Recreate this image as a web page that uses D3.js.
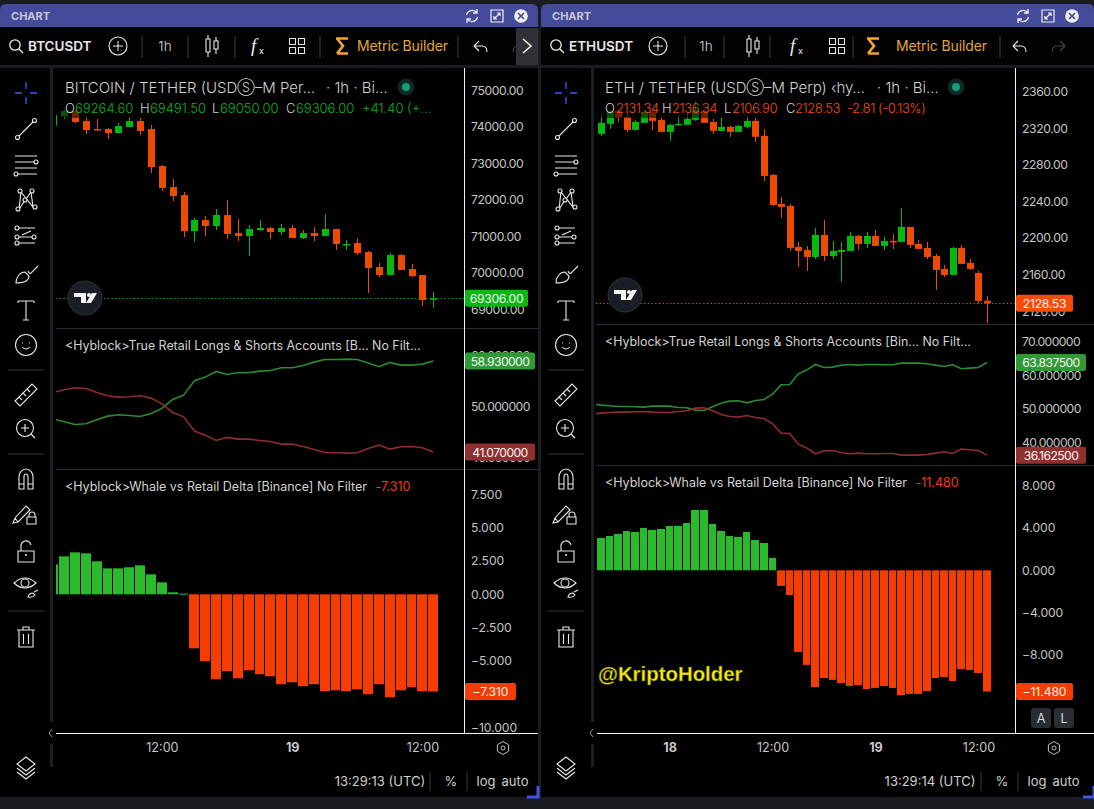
<!DOCTYPE html>
<html>
<head>
<meta charset="utf-8">
<script src="https://cdn.jsdelivr.net/npm/d3@7"></script>
<style>
html, body { margin: 0; padding: 0; background: #000; overflow: hidden; }
svg { display: block; font-family: Inter, "Noto Sans", sans-serif; }
</style>
</head>
<body>
<svg id="fig" width="1094" height="809"></svg>
<script>
// BTC, first entry is the bar cut off by the left edge
const btcOpen = [74035,74300,74437,74163,73944,73944,73834,73998,74163,73944,72930,72355,72136,71150,71451,71287,71588,71095,71013,71177,71232,71122,71232,70958,71095,71013,71205,70776,70821,70575,70164,69945,70492,70109,69945,69264.6];
const btcHigh = [74327,74482,74464,74300,74218,73971,74108,74263,74245,74053,72958,72574,72218,71506,71561,71752,72000,71479,71314,71451,71260,71342,71314,71177,71260,71616,71205,70903,70958,70602,70273,70547,70520,70246,69945,69491.5];
const btcLow = [74035,74218,74108,73807,73916,73670,73834,73998,73779,72739,72246,71972,70986,70849,71013,71177,70931,70876,70465,71150,70931,71040,70958,70931,70876,71013,70630,70630,70492,69452,69890,69945,70082,69890,69096,69050];
const btcClose = [74327,74437,74135,73916,73916,73834,74026,74163,73889,72903,72328,72109,71150,71451,71287,71588,71068,71013,71205,71232,71122,71232,70958,71095,71013,71205,70794,70794,70547,70136,69945,70492,70082,69917,69260,69306];
const btcLongs = [47.51,46.99,46.47,46.60,47.38,48.10,48.36,48.23,48.04,48.63,49.61,51.37,52.22,55.04,55.76,56.87,56.28,56.67,56.61,56.93,57.07,57.59,57.59,58.05,58.70,59.22,59.22,59.29,59.22,58.51,57.79,58.64,58.11,58.11,58.31,58.93];
const btcShorts = [52.75,53.27,53.66,53.53,52.75,52.09,51.83,51.90,52.09,51.64,50.52,48.82,47.97,45.16,44.37,43.33,43.92,43.59,43.59,43.33,43.13,42.61,42.61,42.15,41.56,40.97,40.91,40.84,40.91,41.76,42.41,41.63,42.08,42.15,41.89,41.07];
const btcDelta = [2.25,2.85,3.15,3.08,2.48,1.95,1.95,2.03,2.18,1.50,0.90,0.15,0.05,-4.06,-5.03,-6.38,-5.78,-6.31,-5.71,-6.01,-6.16,-6.76,-6.61,-6.91,-6.76,-7.29,-7.21,-7.29,-7.14,-7.51,-6.76,-7.74,-7.21,-6.99,-7.29,-7.31];
const btcPriceTicks = [75000,74000,73000,72000,71000,70000,69000];
const btcLineTicks = [60,50,40];
const btcDeltaTicks = [7.5,5,2.5,0,-2.5,-5,-7.5,-10];

const ethOpen = [2314.1,2325.1,2339.3,2332.8,2318.5,2326.2,2338.2,2329.5,2316.3,2324,2324,2329.5,2339.3,2327.3,2317.4,2321.8,2316.3,2321.8,2328.4,2311.9,2269.2,2237.4,2235.2,2190.3,2187,2179.3,2203.5,2180.4,2184.8,2185.9,2202.4,2193.6,2202.4,2191.4,2196.9,2195.8,2212.2,2193.6,2189.2,2180.4,2166.2,2159.6,2189.2,2172.8,2161.8,2131.34];
const ethHigh = [2336.1,2340.4,2340.4,2339.3,2329.5,2340.4,2339.3,2331.7,2325.1,2335,2337.2,2350.3,2340.4,2330.6,2331.7,2322.9,2324,2333.9,2331.7,2319.6,2270.3,2245.1,2237.4,2195.8,2191.4,2211.1,2219.9,2196.9,2195.8,2206.7,2203.5,2206.7,2208.9,2201.3,2204.5,2233,2212.2,2198,2195.8,2182.6,2170.6,2190.3,2192.5,2177.1,2164,2136.34];
const ethLow = [2311.9,2319.6,2327.3,2316.3,2317.4,2326.2,2318.5,2316.3,2306.5,2322.9,2324,2328.4,2326.2,2314.1,2317.4,2310.9,2316.3,2320.7,2305.4,2262.6,2235.2,2222.1,2185.9,2168.4,2164,2177.1,2175,2177.1,2151.9,2185.9,2187,2189.2,2191.4,2187,2188.1,2195.8,2189.2,2188.1,2177.1,2143.2,2157.4,2159.6,2171.7,2165.1,2128.9,2106.9];
const ethClose = [2326.2,2338.2,2331.7,2318.5,2327.3,2338.2,2328.4,2316.3,2324,2325.1,2330.6,2340.4,2326.2,2317.4,2321.8,2316.3,2322.9,2328.4,2310.9,2268.1,2236.3,2234.1,2189.2,2185.9,2179.3,2203.5,2180.4,2185.9,2187,2202.4,2193.6,2202.4,2191.4,2196.9,2196.1,2212.2,2192.5,2188.1,2179.3,2165.1,2159.6,2189.2,2171.7,2166.2,2131.1,2128.53];
// ETH lines have one extra point before the first bar
const ethLongs = [51.39,51.09,50.90,50.70,50.70,50.60,50.50,50.80,50.80,50.80,50.40,50.30,49.60,49.50,50.60,51.69,52.29,52.39,51.79,52.49,52.79,54.38,57.16,57.26,60.45,61.64,63.23,62.34,62.44,63.03,63.23,63.03,63.23,63.23,63.13,63.13,63.63,63.63,63.63,63.43,63.03,62.64,63.13,61.94,62.14,62.34,63.84];
const ethShorts = [48.41,48.71,48.91,49.00,49.00,49.10,49.20,49.00,48.91,48.91,49.20,49.40,50.20,50.30,49.50,48.31,47.71,47.51,48.01,47.41,47.11,45.52,42.74,42.64,39.45,38.26,36.57,37.46,37.46,36.97,36.57,36.77,36.57,36.57,36.67,36.67,36.17,36.17,36.17,36.37,36.77,37.16,36.67,37.96,37.76,37.56,36.16];
const ethDelta = [3.06,3.25,3.44,3.72,3.63,4.01,3.82,3.91,4.20,4.20,4.48,5.71,5.71,4.39,3.72,3.25,3.16,3.63,2.87,2.59,1.17,-1.48,-2.34,-7.73,-8.96,-11.05,-10.20,-10.38,-10.67,-10.95,-10.86,-11.24,-11.14,-10.95,-11.14,-11.81,-11.71,-11.71,-11.43,-10.20,-10.10,-10.48,-9.34,-9.44,-9.72,-11.48];
const ethPriceTicks = [2360,2320,2280,2240,2200,2160,2120];
const ethLineTicks = [70,60,50,40];
const ethDeltaTicks = [8,4,0,-4,-8];

const green = "#06b80f", red = "#ee4a02";
const histGreen = "#2bb92e", histRed = "#f43c03";
const longColor = "#2c8a30", shortColor = "#8f2c2c";
const textColor = "#d2d2d2";

const svg = d3.select("#fig");
svg.append("rect").attr("width", 1094).attr("height", 809).attr("fill", "#1b1c21");

const icons = {
    line: "M-7,7L7,-7",
    hlines: "M-11,-9H11M-11,-3H8M-11,3H11M-8,9H11",
    pattern: "M-7,9L-5,-8L7,7L5,-8L-7,9",
    fib: "M-8,-9H9M-7,0H6M-8,6H9M-4,-2L5,-6",
    brush: "M-10,9C-10,3 -6,-2 -1,-2L3,2C3,7 -3,9 -10,9ZM2,-3C3,0 5,0 6,-2L12,-8",
    text: "M-8,-9H8M-8,-9V-7M8,-9V-7M0,-9V10M-3,10H3",
    ruler: "M-11,6L6,-11L11,-6L-6,11ZM-7,2L-4,5M-3,-2L0,1M1,-6L4,-3",
    magnet: "M-7,10V-2A7,8 0 0 1 7,-2V10H2V-2A2,3 0 0 0 -2,-2V10ZM-7,5H-2M2,5H7",
    pencil: "M-10,8L-8,3L3,-9L7,-5L-5,7ZM-8,3L-5,7M6,2V0A3,3 0 0 1 12,0V2M4,2H13V9H4Z",
    lock: "M-8,-1H8V10H-8ZM-5,-1V-5A5,5 0 0 1 5,-7",
    eye: "M-11,-3Q0,-13 11,-3Q0,7 -11,-3ZM3,11Q4,7 8,7L10,9Q8,12 3,11ZM9,6L13,4",
    trash: "M-9,-7H9M-3,-7V-10H3V-7M-7,-7V10H7V-7M-2.5,-3V7M2.5,-3V7",
    layers: "M0,-9L9,-2L0,5L-9,-2ZM-9,2L0,9L9,2M-9,6L0,13L9,6"
};

function addIcon(g, name, x, y, color) {
    g.append("path").attr("d", icons[name]).attr("transform", `translate(${x},${y})`)
        .attr("fill", "none").attr("stroke", color || "#e8e8e8").attr("stroke-width", 1.1);
}

function ring(g, x, y, r) {
    g.append("circle").attr("cx", x).attr("cy", y).attr("r", r)
        .attr("fill", "#000").attr("stroke", "#e8e8e8").attr("stroke-width", 1.1);
}

function sideBar(ox) {
    const g = svg.append("g").attr("transform", `translate(${ox},0)`);
    const x = 26;
    g.append("path").attr("d", "M-11,0H-4M4,0H11M0,-11V-4M0,4V11").attr("transform", "translate(26,93)")
        .attr("fill", "none").attr("stroke", "#2962ff").attr("stroke-width", 1.3);
    addIcon(g, "line", x, 129);
    ring(g, x + 8.5, 120.5, 2); ring(g, x - 8.5, 137.5, 2);
    addIcon(g, "hlines", x, 165);
    ring(g, x + 10, 162, 2); ring(g, x - 10, 174, 2);
    addIcon(g, "pattern", x, 200);
    [[-6,-9],[6,-9],[-8,9],[9,7],[-1,0]].forEach(p => ring(g, x + p[0], 200 + p[1], 2));
    addIcon(g, "fib", x, 237);
    [[-9,-9],[-9,0],[8,0],[-9,6]].forEach(p => ring(g, x + p[0], 237 + p[1], 2));
    addIcon(g, "brush", x, 274);
    addIcon(g, "text", x, 310);
    ring(g, x, 345, 10.5);
    g.append("path").attr("d", "M-4,2Q0,6 4,2M-3.5,-2.5V-1.5M3.5,-2.5V-1.5").attr("transform", `translate(${x},345)`)
        .attr("fill", "none").attr("stroke", "#e8e8e8");
    addIcon(g, "ruler", x, 395);
    ring(g, 25, 428, 8.5);
    g.append("path").attr("d", "M31,434L35,438M25,424V432M21,428H29").attr("fill", "none").attr("stroke", "#e8e8e8").attr("stroke-width", 1.1);
    addIcon(g, "magnet", x, 479);
    addIcon(g, "pencil", x - 3, 515);
    addIcon(g, "lock", x, 552);
    g.append("circle").attr("cx", x).attr("cy", 555).attr("r", 1).attr("fill", "#e8e8e8");
    addIcon(g, "eye", x - 1, 586);
    ring(g, x - 1, 583, 4);
    addIcon(g, "trash", x, 637);
    addIcon(g, "layers", x, 766);
    [370, 454, 611].forEach(y => {
        g.append("line").attr("x1", 8).attr("x2", 44).attr("y1", y).attr("y2", y).attr("stroke", "#36373f");
    });
}

function topBar(ox, w, pos, symbol) {
    const g = svg.append("g").attr("transform", `translate(${ox},0)`);
    g.append("path").attr("d", `M0,27V10Q0,4 6,4H${w - 6}Q${w},4 ${w},10V27Z`).attr("fill", "#454a9a");
    g.append("text").attr("x", 11).attr("y", 20).text("CHART")
        .attr("fill", "#c6c7d6").attr("font-size", 11).attr("font-weight", 700);
    g.append("rect").attr("y", 27).attr("width", w).attr("height", 38).attr("fill", "#020203");

    g.append("path").attr("transform", `translate(${pos.refresh},16)`)
        .attr("d", "M-5.5,-1A5.8,5.8 0 0 1 5,-3M5.5,1A5.8,5.8 0 0 1 -5,3M5,-7V-3H1M-5,7V3H-1")
        .attr("fill", "none").attr("stroke", "#f0f0f0").attr("stroke-width", 1.3);
    g.append("path").attr("transform", `translate(${pos.refresh + 25},16)`)
        .attr("d", "M-6,-6H6V6H-6ZM-3,3L3,-3M0,-3H3V0M-3,0V3H0")
        .attr("fill", "none").attr("stroke", "#f0f0f0").attr("stroke-width", 1.2);
    g.append("circle").attr("cx", pos.refresh + 49).attr("cy", 16).attr("r", 6.8).attr("fill", "#f0f0f0");
    g.append("path").attr("transform", `translate(${pos.refresh + 49},16)`).attr("d", "M-3,-3L3,3M3,-3L-3,3")
        .attr("stroke", "#454a9a").attr("stroke-width", 1.6);

    // search, symbol and the rest of the toolbar
    g.append("circle").attr("cx", 15).attr("cy", 45).attr("r", 5.2).attr("fill", "none").attr("stroke", "#eee").attr("stroke-width", 1.3);
    g.append("path").attr("d", "M19,49L23,53").attr("stroke", "#eee").attr("stroke-width", 1.3);
    g.append("text").attr("x", 28).attr("y", 51).text(symbol).attr("fill", "#e8e8e8")
        .attr("font-size", 13.5).attr("font-weight", 600);
    g.append("circle").attr("cx", pos.plus).attr("cy", 46).attr("r", 9).attr("fill", "none").attr("stroke", "#eee").attr("stroke-width", 1.1);
    g.append("path").attr("d", `M${pos.plus - 5},46H${pos.plus + 5}M${pos.plus},41V51`).attr("stroke", "#eee");
    pos.seps.forEach(x => {
        g.append("line").attr("x1", x).attr("x2", x).attr("y1", 36).attr("y2", 58).attr("stroke", "#3a3b40");
    });
    g.append("text").attr("x", pos.tf).attr("y", 51).attr("text-anchor", "middle").text("1h")
        .attr("fill", "#d8d8d8").attr("font-size", 13.5).attr("font-weight", 300);
    g.append("path").attr("transform", `translate(${pos.candle},46)`)
        .attr("d", "M-6,-7H-2V6H-6ZM-4,-11V-7M-4,6V11M2,-5H6V3H2ZM4,-9V-5M4,3V8")
        .attr("fill", "none").attr("stroke", "#eee").attr("stroke-width", 1.1);
    g.append("text").attr("x", pos.fx - 7).attr("y", 52).text("f").attr("fill", "#eee")
        .attr("font-size", 19).attr("font-style", "italic").attr("font-family", "Liberation Serif");
    g.append("text").attr("x", pos.fx + 1).attr("y", 54).text("x").attr("fill", "#eee").attr("font-size", 9);
    g.append("path").attr("transform", `translate(${pos.grid},46)`)
        .attr("d", "M-7.5,-7.5H-1.5V-1.5H-7.5ZM1.5,-7.5H7.5V-1.5H1.5ZM-7.5,1.5H-1.5V7.5H-7.5ZM1.5,1.5H7.5V7.5H1.5Z")
        .attr("fill", "none").attr("stroke", "#e4e4e4").attr("stroke-width", 1.1);
    g.append("path").attr("transform", `translate(${pos.sigma},46)`)
        .attr("d", "M-6,-7.5H6M-5,-7.5L1,0L-5,7.5M-5,7.5H6")
        .attr("fill", "none").attr("stroke", "#f4a62e").attr("stroke-width", 2.6);
    g.append("text").attr("x", pos.metric).attr("y", 51).text("Metric Builder")
        .attr("fill", "#e1a63c").attr("font-size", 14).attr("letter-spacing", -0.1);
    g.append("path").attr("transform", `translate(${pos.undo},46)`)
        .attr("d", "M-6,0L-1,-5M-6,0L-1,5M-6,0H2Q7,0 7,6").attr("fill", "none").attr("stroke", "#eee").attr("stroke-width", 1.1);
    g.append("path").attr("transform", `translate(${pos.undo + 40},46)`)
        .attr("d", "M6,0L1,-5M6,0L1,5M6,0H-2Q-7,0 -7,6").attr("fill", "none").attr("stroke", "#45464b").attr("stroke-width", 1.1);
}

function lastBox(g, x, y, w, fill, label, spacing) {
    g.append("rect").attr("x", x).attr("y", y - 8.5).attr("width", w).attr("height", 17).attr("rx", 2).attr("fill", fill);
    g.append("text").attr("x", x + w / 2).attr("y", y + 0.5).attr("dy", "0.35em").attr("text-anchor", "middle")
        .attr("fill", "#f4f4f4").attr("font-size", 12.2).attr("letter-spacing", spacing).text(label);
}

function valueAxis(scale, ticks, axisX, fmt, spacing) {
    const g = svg.append("g").attr("transform", `translate(${axisX},0)`)
        .call(d3.axisRight(scale).tickValues(ticks).tickSize(0).tickPadding(7).tickFormat(fmt));
    g.select(".domain").remove();
    g.selectAll("text").attr("fill", "#c4c4c4").attr("font-size", 12.2).attr("font-family", "Inter")
        .attr("letter-spacing", spacing);
    return g;
}

function drawPanel(c) {
    const x = d3.scaleLinear().domain([0, c.lastIndex]).range(c.xRange);
    const at = i => x(i - c.lead);
    const id = c.name;

    const price = d3.scaleLinear().domain(c.priceDomain).range(c.priceRange);
    const lines = d3.scaleLinear().domain([40, 60]).range(c.lineRange);
    const delta = d3.scaleLinear().domain([0, c.deltaRef]).range(c.deltaRange);

    [["a", c.panes[0], c.panes[1]], ["b", c.panes[1], c.panes[2]], ["c", c.panes[2], 733]].forEach(p => {
        svg.append("clipPath").attr("id", id + p[0]).append("rect")
            .attr("x", c.left).attr("y", p[1]).attr("width", c.axisX - c.left).attr("height", p[2] - p[1]);
    });

    // candles
    const pane = svg.append("g").attr("clip-path", `url(#${id}a)`);
    const candleData = c.open.map((o, i) => ({ i, o, h: c.high[i], l: c.low[i], c: c.close[i] }));
    const lastY = Math.round(price(c.close[c.close.length - 1])) + 0.5;
    pane.append("line").attr("x1", c.left).attr("x2", c.axisX).attr("y1", lastY).attr("y2", lastY)
        .attr("stroke", c.lastColor).attr("stroke-dasharray", "1.3 2.4");
    pane.selectAll(".wick").data(candleData).join("line")
        .attr("x1", d => Math.round(at(d.i)) + 0.5).attr("x2", d => Math.round(at(d.i)) + 0.5)
        .attr("y1", d => price(d.h)).attr("y2", d => price(d.l))
        .attr("stroke", d => d.c >= d.o ? green : red);
    pane.selectAll(".body").data(candleData).join("rect")
        .attr("x", d => Math.round(at(d.i)) - 3).attr("width", 7)
        .attr("y", d => price(Math.max(d.o, d.c)))
        .attr("height", d => Math.max(1.5, Math.abs(price(d.o) - price(d.c))))
        .attr("fill", d => d.c >= d.o ? green : red);

    // long / short lines
    const linePath = d3.line().x((d, i) => x(i - c.lineLead)).y(d => lines(d));
    const linePane = svg.append("g").attr("clip-path", `url(#${id}b)`);
    [[c.longs, longColor], [c.shorts, shortColor]].forEach(s => {
        linePane.append("path").attr("d", linePath(s[0])).attr("fill", "none")
            .attr("stroke", s[1]).attr("stroke-width", 1.6);
    });

    // delta bars, 1px gap between neighbours
    const barLeft = i => Math.round(at(i) - c.barWidth / 2);
    svg.append("g").attr("clip-path", `url(#${id}c)`).selectAll("rect").data(c.delta).join("rect")
        .attr("x", (d, i) => barLeft(i)).attr("width", (d, i) => barLeft(i + 1) - barLeft(i) - 1)
        .attr("y", d => Math.min(delta(0), delta(d))).attr("height", d => Math.max(1, Math.abs(delta(d) - delta(0))))
        .attr("fill", d => d >= 0 ? histGreen : histRed);

    // frame
    c.panes.slice(1).forEach(y => {
        svg.append("line").attr("x1", c.left).attr("x2", c.right).attr("y1", y + 0.5).attr("y2", y + 0.5).attr("stroke", "#2b2d33");
    });
    svg.append("line").attr("x1", c.axisX + 0.5).attr("x2", c.axisX + 0.5).attr("y1", 68).attr("y2", 733).attr("stroke", "#f2f2f2");
    svg.append("line").attr("x1", c.left - 3).attr("x2", c.right).attr("y1", 733.5).attr("y2", 733.5).attr("stroke", "#f2f2f2");

    // value axes and last value tags
    valueAxis(price, c.priceTicks, c.axisX, d3.format(".2f"), -0.4);
    valueAxis(lines, c.lineTicks, c.axisX, d3.format(".6f"), -0.6);
    valueAxis(delta, c.deltaTicks, c.axisX, d => d3.format(".3f")(d).replace("-", "−"), -0.1);
    lastBox(svg, c.axisX + 1, price(c.close[c.close.length - 1]), c.priceBox, c.lastColor, d3.format(".2f")(c.close[c.close.length - 1]), -0.3);
    lastBox(svg, c.axisX + 1, lines(c.longs[c.longs.length - 1]), 70, "#2f9a33", c.longLabel, -0.6);
    lastBox(svg, c.axisX + 1, lines(c.shorts[c.shorts.length - 1]), 70, "#8f2f2f", c.shortLabel, -0.6);
    lastBox(svg, c.axisX + 1, delta(c.delta[c.delta.length - 1]), c.deltaBox, "#f43c03", c.deltaLabel, -0.1);

    // time axis
    const timeAxis = svg.append("g").attr("transform", "translate(0,733)")
        .call(d3.axisBottom(x).tickValues(c.timeTicks).tickSize(0).tickPadding(10).tickFormat((d, i) => c.timeLabels[i]));
    timeAxis.select(".domain").remove();
    timeAxis.selectAll("text").attr("fill", "#c8c8c8").attr("font-size", 12.6).attr("font-family", "Inter")
        .attr("font-weight", (d, i) => c.timeLabels[i].includes(":") ? 400 : 700);

    // legends
    svg.append("rect").attr("x", c.left + 4).attr("y", 98).attr("width", c.axisX - c.left - 14).attr("height", 20)
        .attr("fill", "#000").attr("opacity", 0.55);
    const title = svg.append("text").attr("x", c.left + 9).attr("y", 93).attr("fill", textColor)
        .attr("font-size", 15).attr("font-weight", 300);
    title.append("tspan").text(c.titleHead);
    title.append("tspan").attr("font-size", 12.5).attr("dy", -1).text("Ⓢ");
    title.append("tspan").attr("dy", 1).text(c.titleRest);
    svg.append("text").attr("x", c.titleTailX).attr("y", 93).attr("fill", textColor)
        .attr("font-size", 15).attr("font-weight", 300).text("· 1h · Bi…");
    svg.append("circle").attr("cx", c.dot).attr("cy", 87).attr("r", 8.5).attr("fill", "#0d2723");
    svg.append("circle").attr("cx", c.dot).attr("cy", 87).attr("r", 4).attr("fill", "#129b80");
    c.ohlc.forEach(t => {
        svg.append("text").attr("x", t[0]).attr("y", 113).text(t[1]).attr("font-size", 13)
            .attr("letter-spacing", c.ohlcSpacing)
            .attr("fill", t[2] ? c.lastColor : "#cfcfcf").attr("font-weight", 300);
    });
    svg.append("text").attr("x", c.left + 9).attr("y", c.panes[1] + 22).text(c.linesTitle).attr("fill", textColor).attr("font-size", 12.4);
    const deltaTitle = svg.append("text").attr("x", c.left + 9).attr("y", c.panes[2] + 22).attr("fill", textColor).attr("font-size", 12.5);
    deltaTitle.append("tspan").text("<Hyblock>Whale vs Retail Delta [Binance] No Filter");
    deltaTitle.append("tspan").attr("dx", 9).attr("fill", "#f43c03").text(c.deltaLabel.replace("−", "-"));

    // TradingView badge
    const badge = svg.append("g").attr("transform", `translate(${c.left + 29},${c.badgeY})`);
    badge.append("circle").attr("r", 17).attr("fill", "#1a1d26").attr("stroke", "#32343c");
    badge.append("path").attr("d", "M-11,-5H1V5H-4V-1H-11ZM7,-5H12L6,5H1Z").attr("fill", "#f4f4f4");
    badge.append("circle").attr("cx", 4).attr("cy", -3).attr("r", 2).attr("fill", "#f4f4f4");

    // footer
    const foot = svg.append("g");
    foot.append("text").attr("x", c.clock).attr("y", 786).attr("text-anchor", "middle").text(c.clockText)
        .attr("fill", "#cfcfcf").attr("font-size", 13);
    [["%", c.axisX - 13], ["log", c.axisX + 22], ["auto", c.axisX + 51]].forEach(t => {
        foot.append("text").attr("x", t[1]).attr("y", 786).attr("text-anchor", "middle").text(t[0])
            .attr("fill", "#cfcfcf").attr("font-size", 13);
    });
    foot.append("line").attr("x1", c.axisX - 34).attr("x2", c.axisX - 34).attr("y1", 772).attr("y2", 791).attr("stroke", "#3a3b40");
    foot.append("line").attr("x1", c.axisX + 3).attr("x2", c.axisX + 3).attr("y1", 772).attr("y2", 791).attr("stroke", "#3a3b40");
    foot.append("path").attr("transform", `translate(${c.axisX + 39},748)`)
        .attr("d", "M0,-6.5L5.6,-3.2V3.2L0,6.5L-5.6,3.2V-3.2Z").attr("fill", "none").attr("stroke", "#c0c0c0");
    foot.append("circle").attr("cx", c.axisX + 39).attr("cy", 748).attr("r", 2).attr("fill", "none").attr("stroke", "#c0c0c0");
    foot.append("path").attr("d", `M${c.right - 11},797H${c.right}V786`).attr("fill", "none").attr("stroke", "#3e55e8").attr("stroke-width", 3);
}

// panel shells
svg.append("rect").attr("y", 68).attr("width", 538).attr("height", 729).attr("fill", "#000");
svg.append("rect").attr("x", 541).attr("y", 68).attr("width", 553).attr("height", 729).attr("fill", "#000");
svg.append("rect").attr("x", 50).attr("y", 68).attr("width", 3).attr("height", 699).attr("fill", "#1e1f25");
svg.append("rect").attr("x", 591).attr("y", 68).attr("width", 3).attr("height", 699).attr("fill", "#1e1f25");

topBar(0, 538, { refresh: 472, plus: 118, seps: [142, 188, 235, 320, 458], tf: 165, candle: 212, fx: 258, grid: 297, sigma: 342, metric: 357, undo: 480 }, "BTCUSDT");
topBar(541, 553, { refresh: 482, plus: 117, seps: [144, 183, 229, 312, 459], tf: 165, candle: 212, fx: 256, grid: 296, sigma: 332, metric: 355, undo: 478 }, "ETHUSDT");
svg.append("rect").attr("x", 516).attr("y", 28).attr("width", 22).attr("height", 37).attr("fill", "#2f3136");
svg.append("path").attr("d", "M523,39L531,46L523,53").attr("fill", "none").attr("stroke", "#f0f0f0").attr("stroke-width", 1.6);
sideBar(0);
sideBar(540);

drawPanel({
    name: "btc", lead: 1, lineLead: 1, lastIndex: 34, xRange: [64.2, 433.3], left: 56, right: 538, axisX: 464,
    open: btcOpen, high: btcHigh, low: btcLow, close: btcClose, longs: btcLongs, shorts: btcShorts, delta: btcDelta,
    priceDomain: [69000, 75000], priceRange: [309.5, 90.5], priceTicks: btcPriceTicks,
    lineRange: [457.4, 355.5], lineTicks: btcLineTicks,
    deltaRef: 7.5, deltaRange: [594.3, 494.5], deltaTicks: btcDeltaTicks,
    panes: [68, 328, 469], barWidth: 10, lastColor: "#06b80f", priceBox: 63, deltaBox: 51,
    longLabel: "58.930000", shortLabel: "41.070000", deltaLabel: "−7.310",
    timeTicks: [9, 21, 33], timeLabels: ["12:00", "19", "12:00"],
    titleHead: "BITCOIN / TETHER (USD", titleRest: "–M Per…", titleTailX: 326, dot: 406, ohlcSpacing: 0,
    ohlc: [[65, "O"], [75, "69264.60", 1], [140, "H"], [150, "69491.50", 1], [212, "L"], [220, "69050.00", 1], [286, "C"], [296, "69306.00", 1], [362, "+41.40 (+…", 1]],
    linesTitle: "<Hyblock>True Retail Longs & Shorts Accounts [B…  No Filt…",
    badgeY: 298, clock: 380, clockText: "13:29:13 (UTC)"
});

drawPanel({
    name: "eth", lead: 0, lineLead: 1, lastIndex: 45, xRange: [601, 987], left: 596, right: 1094, axisX: 1015,
    open: ethOpen, high: ethHigh, low: ethLow, close: ethClose, longs: ethLongs, shorts: ethShorts, delta: ethDelta,
    priceDomain: [2120, 2360], priceRange: [311.1, 92], priceTicks: ethPriceTicks,
    lineRange: [442.3, 375.3], lineTicks: ethLineTicks,
    deltaRef: 8, deltaRange: [570.3, 485.8], deltaTicks: ethDeltaTicks,
    panes: [68, 324, 465], barWidth: 8, lastColor: "#f94b05", priceBox: 57, deltaBox: 57,
    longLabel: "63.837500", shortLabel: "36.162500", deltaLabel: "−11.480",
    timeTicks: [8, 20, 32, 44], timeLabels: ["18", "12:00", "19", "12:00"],
    titleHead: "ETH / TETHER (USD", titleRest: "–M Perp) ‹hy…", titleTailX: 877, dot: 956, ohlcSpacing: -0.4,
    ohlc: [[605, "O"], [616, "2131.34", 1], [662, "H"], [672, "2136.34", 1], [724, "L"], [732, "2106.90", 1], [786, "C"], [795, "2128.53", 1], [847, "-2.81 (-0.13%)", 1]],
    linesTitle: "<Hyblock>True Retail Longs & Shorts Accounts [Bin…  No Filt…",
    badgeY: 295, clock: 930, clockText: "13:29:14 (UTC)"
});

// chevrons between side bar and chart
[50, 591].forEach(x => {
    svg.append("rect").attr("x", x - 3).attr("y", 722).attr("width", 9).attr("height", 22).attr("fill", "#000");
    svg.append("path").attr("d", `M${x + 2},729L${x - 1},733L${x + 2},737`).attr("fill", "none").attr("stroke", "#9a9a9a");
});

// A and L buttons
[["A", 1031], ["L", 1054]].forEach(b => {
    svg.append("rect").attr("x", b[1]).attr("y", 708).attr("width", 20).attr("height", 20).attr("rx", 3).attr("fill", "#2a2d33");
    svg.append("text").attr("x", b[1] + 10).attr("y", 722.5).attr("text-anchor", "middle").attr("fill", "#d8d8d8").attr("font-size", 12.6).text(b[0]);
});

// watermark
svg.append("text").attr("x", 598).attr("y", 681).text("@KriptoHolder")
    .attr("fill", "#f7ec00").attr("font-family", "Liberation Sans").attr("font-weight", 700)
    .attr("font-size", 20.4).attr("stroke", "#4a4700").attr("stroke-width", 0.4);
</script>
</body>
</html>
